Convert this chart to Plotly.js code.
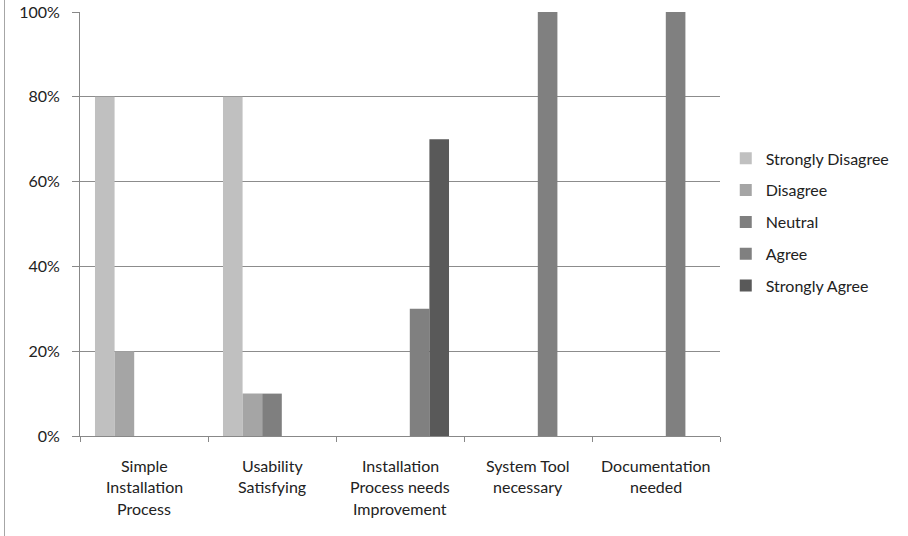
<!DOCTYPE html>
<html><head><meta charset="utf-8">
<script src="https://cdn.plot.ly/plotly-3.0.1.min.js"></script>
<style>html,body{margin:0;padding:0;background:#fff;}#frame{position:absolute;left:4px;top:0;width:1px;height:536px;background:#a6a6a6;}#chart{width:908px;height:536px;}</style>
</head><body>
<div id="chart"></div><div id="frame"></div>
<script>
const categories = ["Simple<br>Installation<br>Process", "Usability<br>Satisfying", "Installation<br>Process needs<br>Improvement", "System Tool<br>necessary", "Documentation<br>needed"];
const seriesNames = ["Strongly Disagree", "Disagree", "Neutral", "Agree", "Strongly Agree"];
const stronglyDisagree = [0.8, 0.8, 0, 0, 0];
const disagree = [0.2, 0.1, 0, 0, 0];
const neutral = [0, 0.1, 0, 0, 0];
const agree = [0, 0, 0.3, 1.0, 1.0];
const stronglyAgree = [0, 0, 0.7, 0, 0];
const yTicks = [0, 0.2, 0.4, 0.6, 0.8, 1.0];

const values = [stronglyDisagree, disagree, neutral, agree, stronglyAgree];
const colors = ["#c0c0c0", "#a5a5a5", "#7f7f7f", "#808080", "#595959"];
const FONT = "Lato, 'Open Sans', sans-serif";
const FS = 16;

const traces = seriesNames.map((name, i) => ({
  type: "bar", name: name, x: categories, y: values[i],
  marker: {color: colors[i], line: {width: 0}},
  legendgroup: "g" + i, hoverinfo: "skip"
}));

const annotations = [];
categories.forEach(c => {
  c.split("<br>").forEach((line, j) => {
    annotations.push({
      x: c, xref: "x", y: 0, yref: "paper", yshift: -29 - j * 21.5,
      text: line, showarrow: false, xanchor: "center", yanchor: "middle",
      font: {family: FONT, size: FS, color: "#222"}
    });
  });
});

const layout = {
  width: 908, height: 536,
  margin: {l: 80, r: 188, t: 12, b: 100},
  paper_bgcolor: "#fff", plot_bgcolor: "#fff",
  barmode: "group", bargap: 0.234, bargroupgap: 0,
  font: {family: FONT, size: FS, color: "#222"},
  xaxis: {
    type: "category", showticklabels: false, tickson: "boundaries",
    ticks: "outside", ticklen: 5, tickcolor: "#888", showgrid: false,
    showline: true, linecolor: "#888", linewidth: 1, zeroline: false, fixedrange: true
  },
  yaxis: {
    range: [0, 1], tickvals: yTicks, tickformat: ".0%",
    ticks: "outside", ticklen: 7, tickcolor: "#888", ticklabelstandoff: 9,
    showgrid: true, gridcolor: "#8c8c8c", gridwidth: 1,
    showline: true, linecolor: "#888", linewidth: 1, zeroline: false,
    tickfont: {family: FONT, size: FS, color: "#222"}, fixedrange: true
  },
  legend: {
    x: 1.009, xanchor: "left", y: 0.505, yanchor: "middle",
    tracegroupgap: 8, font: {family: FONT, size: FS, color: "#222"},
    itemwidth: 30, traceorder: "grouped"
  },
  annotations: annotations,
  showlegend: true
};

Plotly.newPlot("chart", traces, layout, {displayModeBar: false, staticPlot: true});
</script>
</body></html>
